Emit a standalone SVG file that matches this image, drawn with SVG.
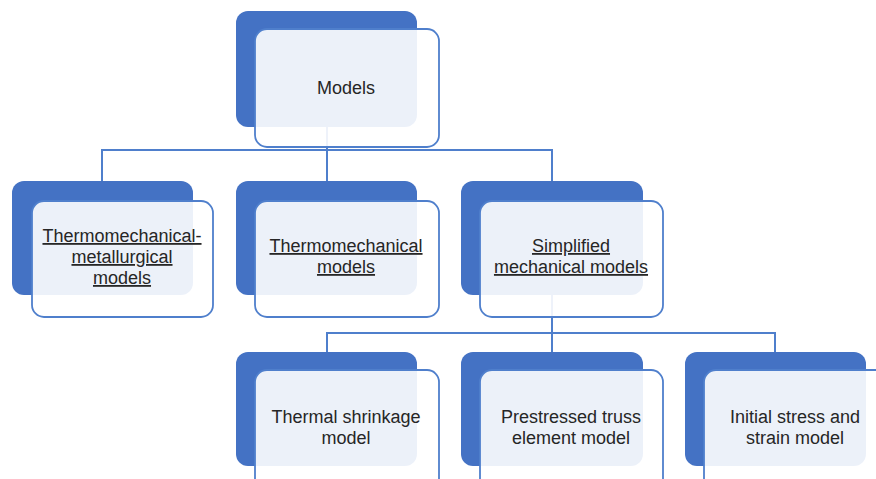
<svg xmlns="http://www.w3.org/2000/svg" width="876" height="479" viewBox="0 0 876 479">
<style>
.back{fill:#4472C4;}
.front{fill:#FFFFFF;fill-opacity:0.9;stroke:#4F7FCC;stroke-width:1.8;}
.conn{fill:none;stroke:#4F7FCC;stroke-width:2;}
text{font-family:"Liberation Sans",Arial,sans-serif;font-size:18px;fill:#262626;text-anchor:middle;}
.u{text-decoration:underline;}
</style>
<rect width="876" height="479" fill="#FFFFFF"/>
<g id="connectors">
<path class="conn" d="M327,127 V150 M102,181 V150 H552 V181 M327,150 V181"/>
<path class="conn" d="M552,295 V333 M327,352 V333 H775 V352 M552,333 V352"/>
</g>
<g id="models">
<rect class="back" x="236" y="11" width="181" height="116" rx="12"/>
<rect class="front" x="255" y="29" width="184" height="118" rx="12"/>
<text x="346" y="94">Models</text>
</g>
<g id="thermomechanical-metallurgical">
<rect class="back" x="12" y="181" width="181" height="114" rx="12"/>
<rect class="front" x="32" y="201" width="181" height="116" rx="12"/>
<text class="u" x="122" y="242">Thermomechanical-</text>
<text class="u" x="122" y="263">metallurgical</text>
<text class="u" x="122" y="284">models</text>
</g>
<g id="thermomechanical">
<rect class="back" x="236" y="181" width="181" height="114" rx="12"/>
<rect class="front" x="255" y="201" width="184" height="116" rx="12"/>
<text class="u" x="346" y="252">Thermomechanical</text>
<text class="u" x="346" y="273">models</text>
</g>
<g id="simplified">
<rect class="back" x="461" y="181" width="182" height="114" rx="12"/>
<rect class="front" x="480" y="201" width="183" height="116" rx="12"/>
<text class="u" x="571" y="252">Simplified</text>
<text class="u" x="571" y="273">mechanical models</text>
</g>
<g id="thermal-shrinkage">
<rect class="back" x="236" y="352" width="181" height="114" rx="12"/>
<rect class="front" x="255" y="370" width="184" height="130" rx="12"/>
<text x="346" y="423">Thermal shrinkage</text>
<text x="346" y="444">model</text>
</g>
<g id="prestressed-truss">
<rect class="back" x="461" y="352" width="182" height="114" rx="12"/>
<rect class="front" x="480" y="370" width="183" height="130" rx="12"/>
<text x="571" y="423">Prestressed truss</text>
<text x="571" y="444">element model</text>
</g>
<g id="initial-stress">
<rect class="back" x="685" y="352" width="181" height="114" rx="12"/>
<rect class="front" x="704" y="370" width="184" height="130" rx="12"/>
<text x="795" y="423">Initial stress and</text>
<text x="795" y="444">strain model</text>
</g>
</svg>
